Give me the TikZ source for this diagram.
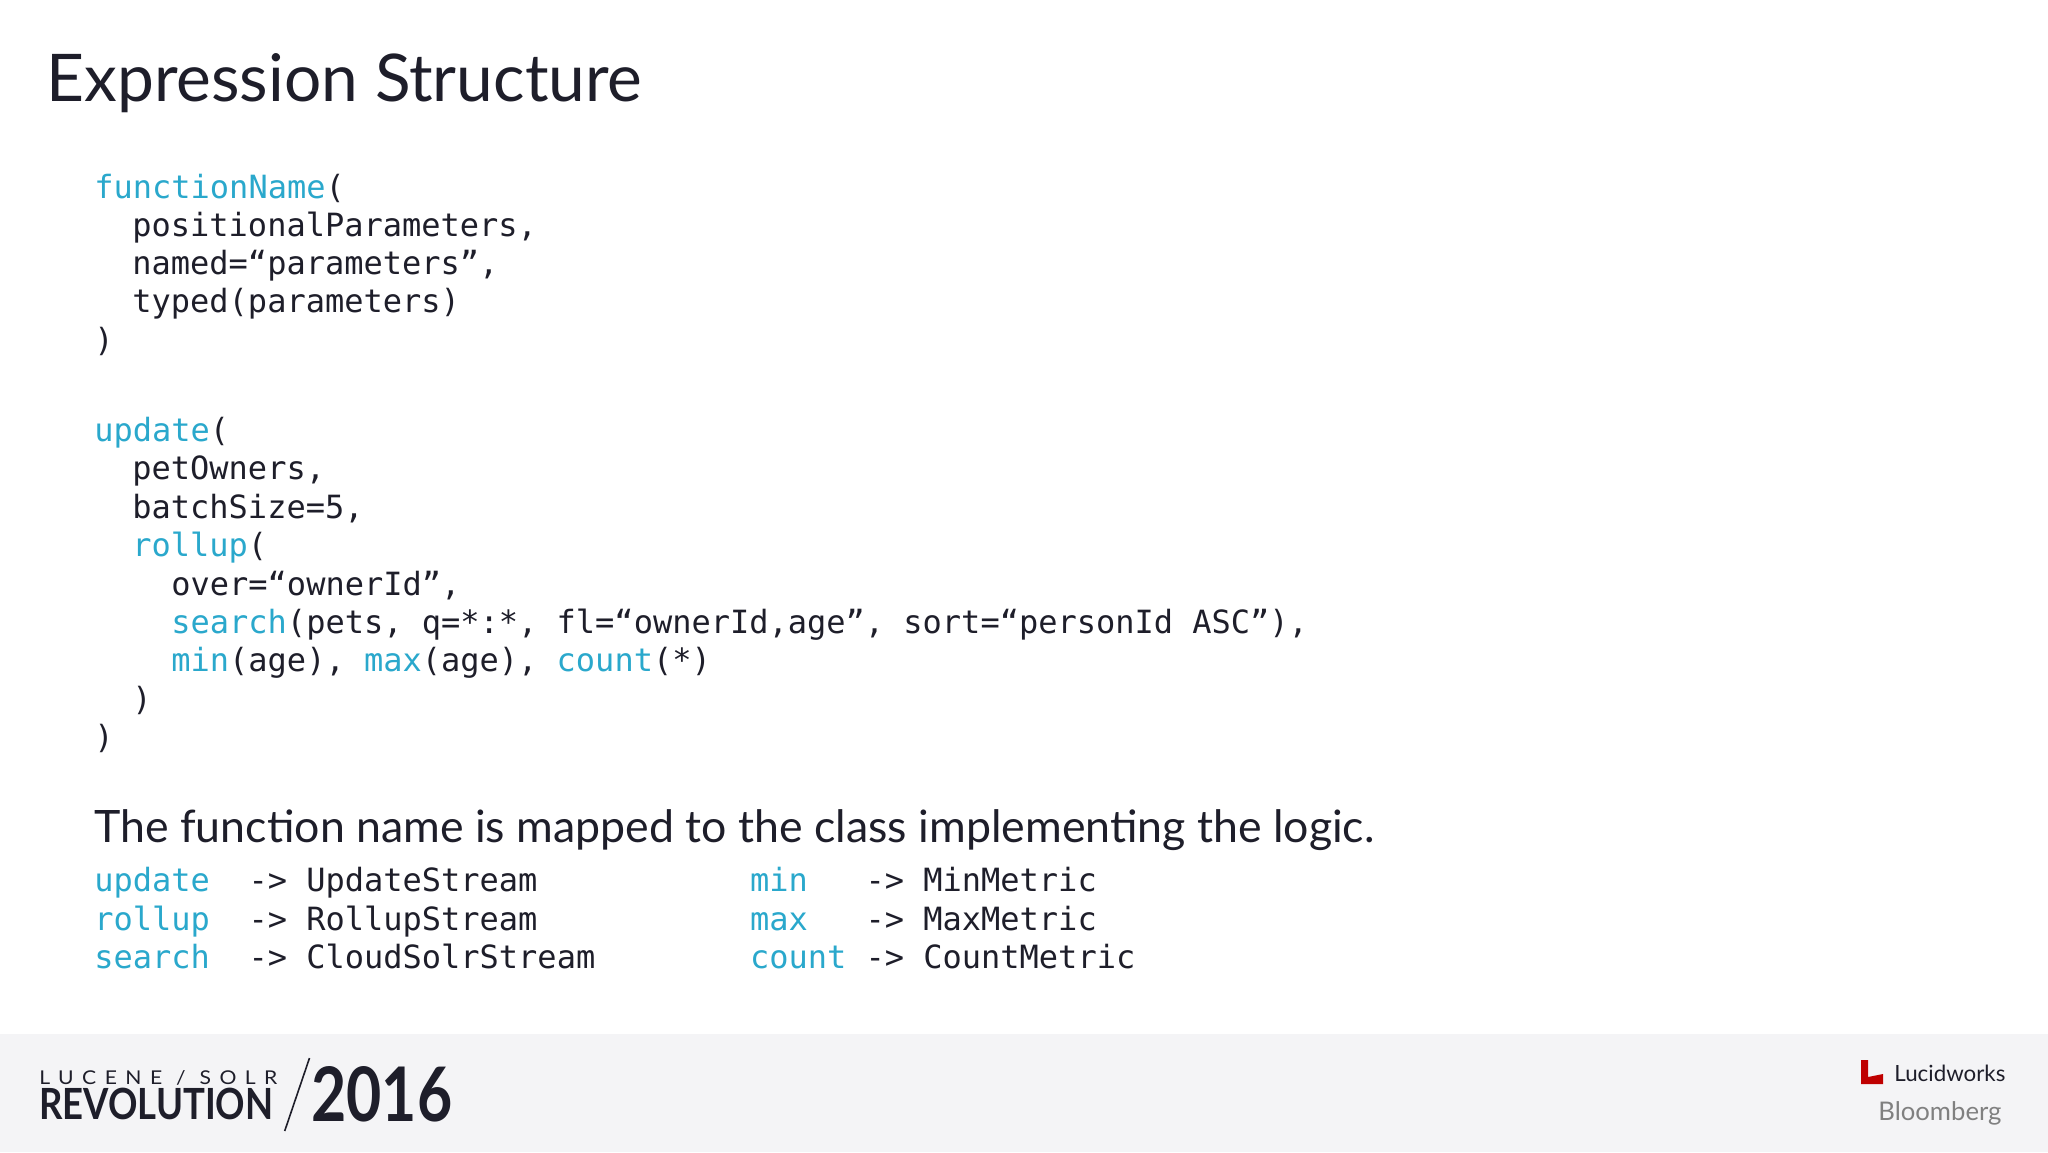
\documentclass[tikz,border=0pt]{standalone}
\usepackage{fontspec}
\usepackage{graphicx}
\setmainfont{Lato}
\newfontfamily\mono{DejaVu Sans Mono}
\definecolor{cy}{HTML}{2AA8CC}
\definecolor{ink}{HTML}{1E1E2A}
\definecolor{foot}{HTML}{F4F4F6}
\newcommand{\K}[1]{\textcolor{cy}{#1}}
\begin{document}
\begin{tikzpicture}[x=0.5pt,y=-0.5pt,
  code/.style={anchor=base west,inner sep=0pt,font=\mono\fontsize{16pt}{16pt}\selectfont,text=ink},
  lbl/.style={anchor=west,inner sep=0pt,text=ink}]
\fill[white] (0,0) rectangle (2048,1152);
\useasboundingbox (0,0) rectangle (2048,1152);
\fill[foot] (0,1034) rectangle (2048,1152);
\node[lbl] (title) at (46,83) {\resizebox{298pt}{!}{Expression Structure}};
% code
\node[code] (l1) at (94,198) {\K{functionName}(};
\node[code] (l2) at (132,236) {positionalParameters,};
\node[code] (l3) at (132,274) {named=“parameters”,};
\node[code] (l4) at (132,312) {typed(parameters)};
\node[code] (l5) at (94,351) {)};
\node[code] (m1) at (94,441) {\K{update}(};
\node[code] (m2) at (132,479) {petOwners,};
\node[code] (m3) at (132,518) {batchSize=5,};
\node[code] (m4) at (132,556) {\K{rollup}(};
\node[code] (m5) at (171,595) {over=“ownerId”,};
\node[code] (m6) at (171,633) {\K{search}(pets, q=*:*, fl=“ownerId,age”, sort=“personId ASC”),};
\node[code] (m7) at (171,671) {\K{min}(age), \K{max}(age), \K{count}(*)};
\node[code] (m8) at (132,710) {)};
\node[code] (m9) at (94,748) {)};
\node[lbl] (sent) at (94,830) {\resizebox{640pt}{!}{The function name is mapped to the class implementing the logic.}};
\node[code] (t1) at (94,891) {\K{update}\ \ -> UpdateStream};
\node[code] (t2) at (94,930) {\K{rollup}\ \ -> RollupStream};
\node[code] (t3) at (94,968) {\K{search}\ \ -> CloudSolrStream};
\node[code] (u1) at (749.6,891) {\K{min}\ \ \ -> MinMetric};
\node[code] (u2) at (749.6,930) {\K{max}\ \ \ -> MaxMetric};
\node[code] (u3) at (749.6,968) {\K{count}\ -> CountMetric};
% footer
\node[lbl,text=ink] (lucene) at (39,1077.5) {\resizebox{119pt}{7pt}{\addfontfeature{LetterSpace=40}LUCENE / SOLR}};
\node[lbl,text=ink] (rev) at (39,1103.6) {\resizebox{117pt}{15.7pt}{\bfseries REVOLUTION}};
\coordinate (s1) at (309.5,1058);
\coordinate (s2) at (284.7,1131);
\draw[ink,line width=0.8pt] (s1) -- (s2);
\node[lbl,text=ink] (yr) at (311,1094) {\resizebox{70.5pt}{27.5pt}{\bfseries 2016}};
\fill[red!75!black] (1861,1060) -- (1868,1060) -- (1868,1077) -- (1883,1074) -- (1883,1084) -- (1861,1084) -- cycle;
\node[lbl,text=ink] (lw) at (1894,1073) {\resizebox{55.5pt}{!}{Lucidworks}};
\node[lbl,text=gray] (bb) at (1878,1113) {\resizebox{61.5pt}{!}{Bloomberg}};
\end{tikzpicture}
\end{document}
